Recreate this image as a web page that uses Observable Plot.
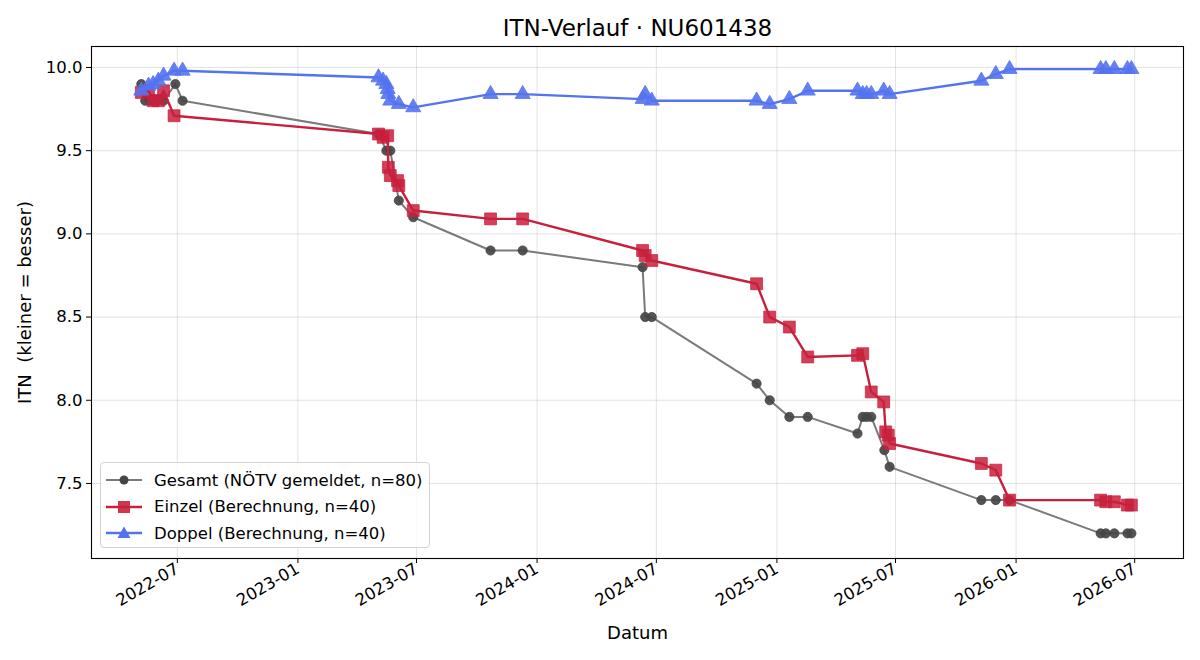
<!DOCTYPE html>
<html><head><meta charset="utf-8">
<script src="https://cdn.jsdelivr.net/npm/d3@7"></script>
<script src="https://cdn.jsdelivr.net/npm/@observablehq/plot@0.6"></script>
<style>
body{margin:0;background:#fff;font-family:"DejaVu Sans",sans-serif}
#wrap{position:relative;width:1200px;height:660px}
#legend{position:absolute;left:100px;top:462px;width:330px;height:86px;border:1px solid #d3d3d3;border-radius:4px;background:rgba(255,255,255,0.8);box-sizing:border-box;font-size:16.5px;color:#000}
.row{position:absolute;left:5px;height:22px;display:flex;align-items:center;white-space:nowrap}
.row svg{margin-right:10px}
</style></head><body><div id="wrap"></div>
<script>
// ---- data ----
const title = "ITN-Verlauf · NU601438";
const xLabel = "Datum";
const yLabel = "ITN  (kleiner = besser)";
const seriesNames = ["Gesamt (NÖTV gemeldet, n=80)", "Einzel (Berechnung, n=40)", "Doppel (Berechnung, n=40)"];

const gesamtDates = ["2022-05-07","2022-05-13","2022-05-21","2022-05-31","2022-06-10","2022-06-28","2022-07-09",
  "2023-05-04","2023-05-16","2023-05-22","2023-06-04","2023-06-26","2023-10-22","2023-12-10",
  "2024-06-10","2024-06-14","2024-06-24","2024-12-01","2024-12-21","2025-01-20","2025-02-17",
  "2025-05-04","2025-05-12","2025-05-18","2025-05-25","2025-06-14","2025-06-22",
  "2025-11-09","2025-12-01","2025-12-22","2026-05-10","2026-05-18","2026-05-31","2026-06-20","2026-06-26"];
const gesamtValues = [9.9,9.8,9.8,9.8,9.8,9.9,9.8,
  9.6,9.5,9.5,9.2,9.1,8.9,8.9,
  8.8,8.5,8.5,8.1,8.0,7.9,7.9,
  7.8,7.9,7.9,7.9,7.7,7.6,
  7.4,7.4,7.4,7.2,7.2,7.2,7.2,7.2];

const einzelDates = ["2022-05-07","2022-05-18","2022-05-25","2022-06-02","2022-06-10","2022-06-26",
  "2023-05-04","2023-05-11","2023-05-18","2023-05-19","2023-05-22","2023-06-02","2023-06-04","2023-06-26",
  "2023-10-22","2023-12-10","2024-06-10","2024-06-14","2024-06-24",
  "2024-12-01","2024-12-21","2025-01-20","2025-02-17",
  "2025-05-04","2025-05-12","2025-05-25","2025-06-13","2025-06-16","2025-06-20","2025-06-22",
  "2025-11-09","2025-12-01","2025-12-22","2026-05-10","2026-05-18","2026-05-31","2026-06-20","2026-06-26"];
const einzelValues = [9.85,9.86,9.80,9.80,9.86,9.71,
  9.60,9.58,9.59,9.40,9.35,9.32,9.29,9.14,
  9.09,9.09,8.90,8.87,8.84,
  8.70,8.50,8.44,8.26,
  8.27,8.28,8.05,7.99,7.81,7.79,7.74,
  7.62,7.58,7.40,7.40,7.39,7.39,7.37,7.37];

const doppelDates = ["2022-05-07","2022-05-18","2022-05-25","2022-06-02","2022-06-10","2022-06-26","2022-07-09",
  "2023-05-04","2023-05-11","2023-05-16","2023-05-18","2023-05-19","2023-05-22","2023-06-04","2023-06-26",
  "2023-10-22","2023-12-10","2024-06-10","2024-06-14","2024-06-24",
  "2024-12-01","2024-12-21","2025-01-20","2025-02-17",
  "2025-05-04","2025-05-12","2025-05-18","2025-05-25","2025-06-13","2025-06-22",
  "2025-11-09","2025-12-01","2025-12-22","2026-05-10","2026-05-18","2026-05-31","2026-06-20","2026-06-26"];
const doppelValues = [9.86,9.89,9.90,9.92,9.95,9.98,9.98,
  9.94,9.92,9.90,9.87,9.84,9.80,9.78,9.76,
  9.84,9.84,9.81,9.84,9.80,
  9.80,9.78,9.81,9.86,
  9.86,9.84,9.84,9.84,9.86,9.84,
  9.92,9.96,9.99,9.99,9.99,9.99,9.99,9.99];

const xTicks = ["2022-07-01","2023-01-01","2023-07-01","2024-01-01","2024-07-01","2025-01-01","2025-07-01","2026-01-01","2026-07-01"];
const yTicks = [7.5,8.0,8.5,9.0,9.5,10.0];

// ---- build ----
const toRows = (ds, vs) => ds.map((d, i) => ({date: new Date(d + "T00:00:00Z"), v: vs[i]}));
const gesamt = toRows(gesamtDates, gesamtValues);
const einzel = toRows(einzelDates, einzelValues);
const doppel = toRows(doppelDates, doppelValues);

const C_G_LINE = "#7a7a7a", C_G_DOT = "#454545";
const C_E = "#c8203c", C_D = "#5473f0";

const chart = Plot.plot({
  width: 1200, height: 660,
  marginLeft: 91, marginRight: 17, marginTop: 46, marginBottom: 102,
  style: {fontFamily: "DejaVu Sans", fontSize: "16px", color: "#000", background: "#fff"},
  x: {type: "utc", domain: [new Date("2022-02-20T00:00:00Z"), new Date("2026-09-13T12:00:00Z")]},
  y: {domain: [7.049, 10.126]},
  marks: [
    Plot.gridX(xTicks.map(d => new Date(d + "T00:00:00Z")), {stroke: "#b0b0b0", strokeOpacity: 0.35, strokeWidth: 1}),
    Plot.gridY(yTicks, {stroke: "#b0b0b0", strokeOpacity: 0.35, strokeWidth: 1}),
    Plot.line(gesamt, {x: "date", y: "v", stroke: C_G_LINE, strokeWidth: 2}),
    Plot.dot(gesamt, {x: "date", y: "v", r: 4.6, fill: C_G_DOT, stroke: C_G_DOT, strokeWidth: 0.8, fillOpacity: 0.92}),
    Plot.line(einzel, {x: "date", y: "v", stroke: C_E, strokeWidth: 2.4}),
    Plot.dot(einzel, {x: "date", y: "v", symbol: "square", r: 6.7, fill: C_E, stroke: C_E, strokeWidth: 0.8, fillOpacity: 0.85, strokeOpacity: 0.9}),
    Plot.line(doppel, {x: "date", y: "v", stroke: C_D, strokeWidth: 2.4}),
    Plot.dot(doppel, {x: "date", y: "v", symbol: "triangle", r: 5.6, fill: C_D, stroke: C_D, strokeWidth: 0.8, fillOpacity: 0.9}),
    Plot.frame({stroke: "#000", strokeWidth: 1.1}),
    Plot.axisX(xTicks.map(d => new Date(d + "T00:00:00Z")), {tickFormat: d3.utcFormat("%Y-%m"), tickRotate: -30, tickSize: 5, tickPadding: 4, label: null, fontSize: 16.5}),
    Plot.axisY(yTicks, {tickFormat: d3.format(".1f"), tickSize: 5, tickPadding: 4, label: null, fontSize: 16.5}),
    Plot.text([title], {frameAnchor: "top", textAnchor: "middle", lineAnchor: "middle", dy: -18, fontSize: 23, fill: "#000"}),
    Plot.text([xLabel], {frameAnchor: "bottom", textAnchor: "middle", lineAnchor: "middle", dy: 75, fontSize: 18, fill: "#000"}),
    Plot.text([yLabel], {frameAnchor: "left", textAnchor: "middle", lineAnchor: "middle", dx: -66, rotate: -90, fontSize: 18, fill: "#000"})
  ]
});

const wrap = document.getElementById("wrap");
wrap.appendChild(chart);

// legend
const legend = document.createElement("div");
legend.id = "legend";
const markers = [
  {line: C_G_LINE, fill: C_G_DOT, sym: "circle"},
  {line: C_E, fill: C_E, sym: "square"},
  {line: C_D, fill: C_D, sym: "triangle"}
];
seriesNames.forEach((name, i) => {
  const m = markers[i];
  const row = document.createElement("div");
  row.className = "row";
  row.style.top = (6 + i * 26.5) + "px";
  let shape;
  if (m.sym === "circle") shape = `<circle cx="18" cy="11" r="4.5" fill="${m.fill}"/>`;
  else if (m.sym === "square") shape = `<rect x="12" y="5" width="12" height="12" fill="${m.fill}" fill-opacity="0.9"/>`;
  else shape = `<path d="M18,4.5 L24.5,16 L11.5,16 Z" fill="${m.fill}"/>`;
  row.innerHTML = `<svg width="38" height="22"><line x1="0" x2="36" y1="11" y2="11" stroke="${m.line}" stroke-width="${i === 0 ? 2 : 2.4}"/>${shape}</svg><span>${name}</span>`;
  legend.appendChild(row);
});
wrap.appendChild(legend);
</script>
</body></html>
